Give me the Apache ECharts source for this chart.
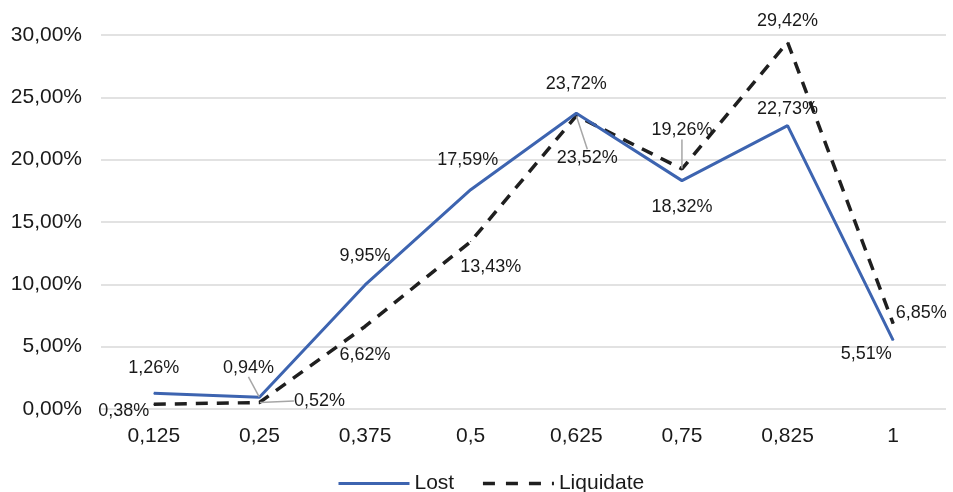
<!DOCTYPE html>
<html>
<head>
<meta charset="utf-8">
<script src="https://cdn.jsdelivr.net/npm/echarts@6/dist/echarts.min.js"></script>
<style>
  html, body { margin: 0; padding: 0; background: #ffffff; }
  #chart { width: 953px; height: 492px; }
</style>
</head>
<body>
<div id="chart"></div>
<script>
// Category axis (ratios) and the two series, in percent
const categories = ['0,125', '0,25', '0,375', '0,5', '0,625', '0,75', '0,825', '1'];
const lostValues = [1.26, 0.94, 9.95, 17.59, 23.72, 18.32, 22.73, 5.51];
const liquidateValues = [0.38, 0.52, 6.62, 13.43, 23.52, 19.26, 29.42, 6.85];
const yTicks = [0, 5, 10, 15, 20, 25, 30];

// Label nudges [dx, dy] from the default "top" placement, per point
const lostLabelShift = [[0, -11], [-11, -15], [0, -14], [-3, -15], [0, -15], [0, 41], [0, -2], [-27, 28]];
const liqLabelShift = [[-30, 21], [60, 13], [0, 43], [20, 40], [11, 57], [0, -24], [0, -7], [28, 4]];
// Points whose labels are tied back with a guide line
const lostGuide = [false, true, false, false, false, false, false, false];
const liqGuide = [false, true, false, false, true, true, false, false];

const fmt = v => v.toFixed(2).replace('.', ',') + '%';
const FONT = 'Liberation Sans, Arial, sans-serif';
const BLUE = '#3d64b0';
const DARK = '#1f1f1f';

function buildData(values, guides) {
  return values.map((v, i) => ({
    value: v,
    labelLine: { show: guides[i] }
  }));
}

const chart = echarts.init(document.getElementById('chart'), null, { renderer: 'canvas' });

chart.setOption({
  animation: false,
  backgroundColor: '#ffffff',
  grid: { left: 101, right: 7, top: 35, bottom: 83, containLabel: false },
  legend: {
    bottom: -7,
    left: 332,
    itemWidth: 71,
    itemHeight: 14,
    itemGap: 27,
    itemStyle: { opacity: 0 },
    textStyle: { fontFamily: FONT, fontSize: 21, color: '#1a1a1a' },
    data: [
      { name: 'Lost', lineStyle: { width: 3, color: BLUE } },
      { name: 'Liquidate', lineStyle: { width: 3.5, color: DARK, type: [12, 11] } }
    ]
  },
  xAxis: {
    type: 'category',
    data: categories,
    boundaryGap: true,
    axisLine: { show: false },
    axisTick: { show: false },
    axisLabel: { fontFamily: FONT, fontSize: 21, color: '#1a1a1a', margin: 17 }
  },
  yAxis: {
    type: 'value',
    min: yTicks[0],
    max: yTicks[yTicks.length - 1],
    interval: 5,
    axisLine: { show: false },
    axisTick: { show: false },
    splitLine: { lineStyle: { color: '#d9d9d9', width: 1.5 } },
    axisLabel: {
      fontFamily: FONT, fontSize: 21, color: '#1a1a1a', margin: 19,
      formatter: v => fmt(v)
    }
  },
  series: [
    {
      name: 'Lost',
      type: 'line',
      data: buildData(lostValues, lostGuide),
      symbol: 'circle',
      symbolSize: 1,
      z: 3,
      lineStyle: { color: BLUE, width: 3 },
      itemStyle: { color: BLUE },
      label: {
        show: true, position: 'top', distance: 5,
        fontFamily: FONT, fontSize: 18, color: '#1a1a1a',
        formatter: p => fmt(p.value)
      },
      labelLine: { lineStyle: { color: '#a6a6a6', width: 1.5 } },
      labelLayout: p => ({ dx: lostLabelShift[p.dataIndex][0], dy: lostLabelShift[p.dataIndex][1] })
    },
    {
      name: 'Liquidate',
      type: 'line',
      data: buildData(liquidateValues, liqGuide),
      symbol: 'circle',
      symbolSize: 1,
      z: 2,
      lineStyle: { color: DARK, width: 3.5, type: [12, 9] },
      itemStyle: { color: DARK },
      label: {
        show: true, position: 'top', distance: 5,
        fontFamily: FONT, fontSize: 18, color: '#1a1a1a',
        formatter: p => fmt(p.value)
      },
      labelLine: { lineStyle: { color: '#a6a6a6', width: 1.5 } },
      labelLayout: p => ({ dx: liqLabelShift[p.dataIndex][0], dy: liqLabelShift[p.dataIndex][1] })
    }
  ]
});
</script>
</body>
</html>
